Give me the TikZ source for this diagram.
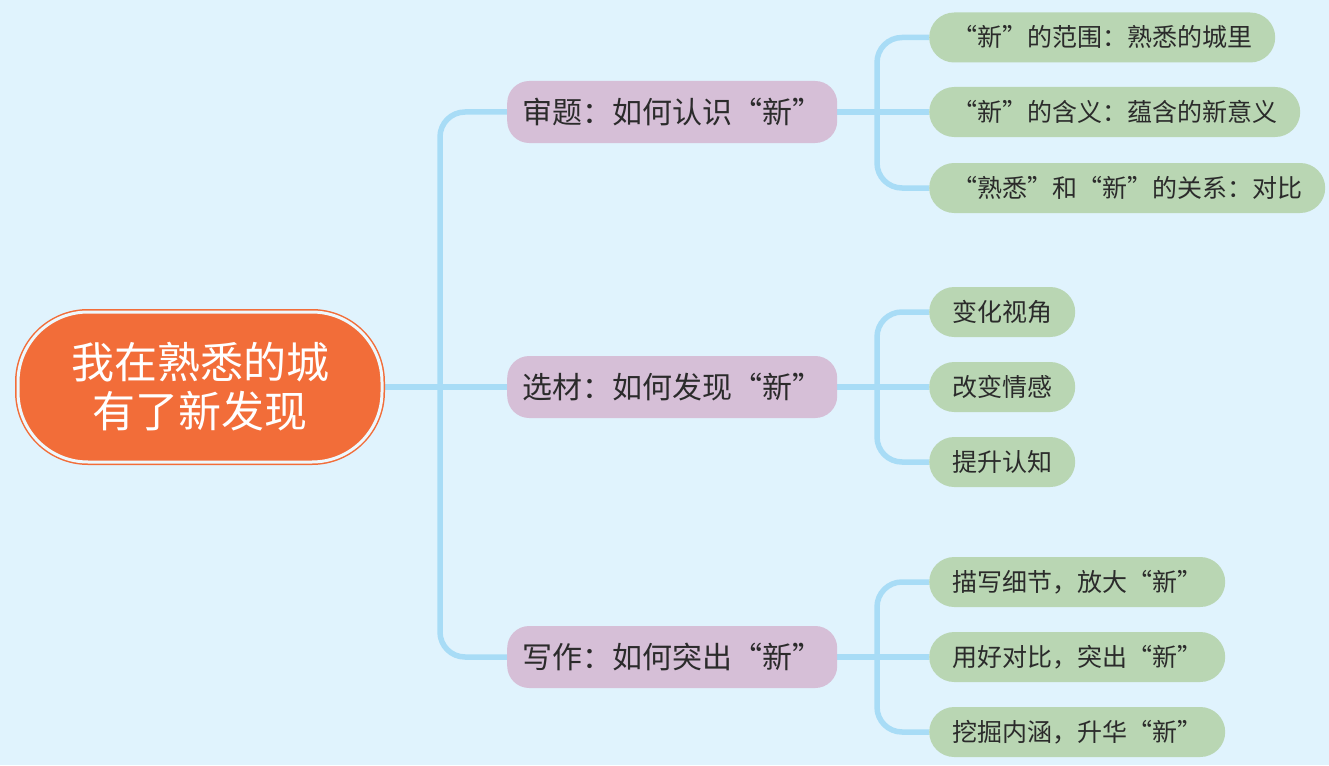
\documentclass[tikz,border=0pt]{standalone}
\usepackage{fontspec}
\newfontfamily\cjk[CharacterWidth=Full]{Noto Sans CJK SC}
\usepackage{tikz}
\usetikzlibrary{positioning,backgrounds}
\usepackage{xcolor}
\definecolor{skyback}{HTML}{E0F3FD}
\definecolor{linkblue}{HTML}{A8DCF6}
\definecolor{rootorange}{HTML}{F26D39}
\definecolor{ringlight}{HTML}{EEF8FD}
\definecolor{topicpurple}{HTML}{D6BFD7}
\definecolor{leafgreen}{HTML}{B9D6B3}
\definecolor{inkdark}{HTML}{2B2B2B}

\begin{document}
\begin{tikzpicture}[x=1pt,y=-1pt,
    link/.style={linkblue, line width=5.5pt, rounded corners=25pt},
    rootbox/.style={fill=rootorange, draw=rootorange, line width=1.5pt,
      double=ringlight, double distance=3pt, rounded corners=70pt,
      minimum width=364pt, minimum height=150pt, inner sep=0pt,
      align=center, text=white, font=\cjk\fontsize{43}{49}\selectfont},
    topic/.style={fill=topicpurple, rounded corners=22pt, anchor=west,
      minimum height=62pt, inner xsep=15pt, inner ysep=0pt,
      text height=26.5pt, text depth=3.5pt, text=inkdark,
      font=\cjk\fontsize{30}{36}\selectfont},
    leaf/.style={fill=leafgreen, rounded corners=25pt, anchor=west,
      minimum height=50pt, inner xsep=23pt, inner ysep=0pt,
      text height=22pt, text depth=3pt, text=inkdark,
      font=\cjk\fontsize{25}{30}\selectfont}]
  \useasboundingbox (0,0) rectangle (1329,765);
  % Central topic
  \node[rootbox] (root) at (200,387) {我在熟悉的城\\有了新发现};
  % Main branches
  \node[topic] (judge) at (507,112) {审题：如何认识“新”};
  \node[topic] (pick)  at (507,387) {选材：如何发现“新”};
  \node[topic] (write) at (507,657) {写作：如何突出“新”};
  % Sub branches
  \foreach \name/\y/\txt in {
      judgeA/37.5/{“新”的范围：熟悉的城里},
      judgeB/112/{“新”的含义：蕴含的新意义},
      judgeC/188/{“熟悉”和“新”的关系：对比},
      pickA/312/{变化视角},
      pickB/387/{改变情感},
      pickC/462/{提升认知},
      writeA/582/{描写细节，放大“新”},
      writeB/657/{用好对比，突出“新”},
      writeC/732/{挖掘内涵，升华“新”}}{
    \node[leaf] (\name) at (929,\y) {\txt};
  }
  % Connectors behind the boxes
  \begin{scope}[on background layer]
    \fill[skyback] (0,0) rectangle (1329,765);
    \coordinate (trunk) at (440,387);
    \draw[link] (root.east) -- (pick.west);
    \draw[link] (judge.west) -| (trunk) |- (write.west);
    \foreach \part/\x in {judge/877, pick/877, write/877}{
      \coordinate (\part fork) at (\x,0 |- \part.east);
      \draw[link] (\part A.west) -| (\part fork) |- (\part C.west);
      \draw[link] (\part.east) -- (\part B.west);
    }
  \end{scope}
\end{tikzpicture}
\end{document}
